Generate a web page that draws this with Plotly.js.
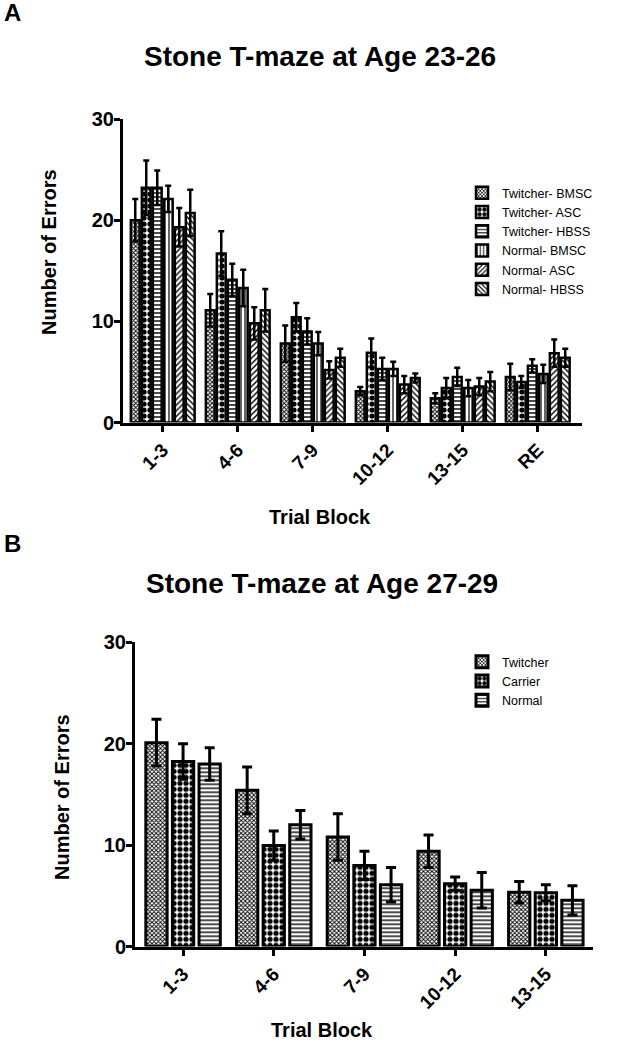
<!DOCTYPE html>
<html>
<head>
<meta charset="utf-8">
<script src="https://cdn.plot.ly/plotly-3.0.1.min.js"></script>
<style>html,body{margin:0;padding:0;background:#fff;}#chart{width:618px;height:1050px;}</style>
</head>
<body>
<div id="chart"></div>
<script>
// ---- Panel A data (Age 23-26) ----
const blocksA = ["1-3", "4-6", "7-9", "10-12", "13-15", "RE"];
const seriesA = ["Twitcher- BMSC", "Twitcher- ASC", "Twitcher- HBSS", "Normal- BMSC", "Normal- ASC", "Normal- HBSS"];
const twBMSC = [20.0, 11.1, 7.8, 3.1, 2.4, 4.5];
const twBMSCerr = [2.1, 1.6, 1.8, 0.4, 0.5, 1.3];
const twASC = [23.2, 16.7, 10.4, 6.9, 3.4, 4.0];
const twASCerr = [2.7, 2.2, 1.4, 1.4, 1.0, 0.6];
const twHBSS = [23.2, 14.1, 9.0, 5.3, 4.5, 5.6];
const twHBSSerr = [1.7, 1.6, 1.3, 1.1, 0.9, 0.65];
const nBMSC = [22.1, 13.3, 7.8, 5.3, 3.4, 4.8];
const nBMSCerr = [1.3, 1.8, 1.15, 0.7, 0.8, 0.9];
const nASC = [19.3, 9.8, 5.2, 3.75, 3.55, 6.85];
const nASCerr = [1.9, 1.6, 0.85, 0.85, 0.85, 1.35];
const nHBSS = [20.7, 11.1, 6.4, 4.4, 4.05, 6.4];
const nHBSSerr = [2.3, 2.1, 0.9, 0.45, 0.95, 0.9];

// ---- Panel B data (Age 27-29) ----
const blocksB = ["1-3", "4-6", "7-9", "10-12", "13-15"];
const seriesB = ["Twitcher", "Carrier", "Normal"];
const twitcher = [20.1, 15.4, 10.8, 9.4, 5.35];
const twitcherErr = [2.3, 2.3, 2.3, 1.6, 1.05];
const carrier = [18.25, 9.95, 8.0, 6.2, 5.3];
const carrierErr = [1.75, 1.45, 1.4, 0.65, 0.8];
const normal = [18.0, 12.0, 6.1, 5.55, 4.55];
const normalErr = [1.6, 1.4, 1.7, 1.75, 1.45];

const yTicks = [0, 10, 20, 30];

// pattern styles
const patT_BMSC = {shape: "x", size: 3, solidity: 0.5, fgcolor: "#000", bgcolor: "#fff"};
const patT_ASC = {shape: ".", size: 6, solidity: 0.6, fgcolor: "#000", bgcolor: "#fff"};
const patHoriz = {shape: "-", size: 4, solidity: 0.35, fgcolor: "#000", bgcolor: "#fff"};
const patVert = {shape: "|", size: 4, solidity: 0.3, fgcolor: "#000", bgcolor: "#fff"};
const patSlash = {shape: "/", size: 4, solidity: 0.35, fgcolor: "#000", bgcolor: "#fff"};
const patBack = {shape: "\\", size: 4, solidity: 0.35, fgcolor: "#000", bgcolor: "#fff"};

function barTrace(name, x, y, err, pat, xa, ya, legend, lw, ew, cap) {
  return {
    type: "bar", name: name, x: x, y: y,
    xaxis: xa, yaxis: ya, legend: legend,
    marker: {color: "#fff", line: {color: "#000", width: lw}, pattern: pat},
    error_y: {type: "data", array: err, visible: true, color: "#000", thickness: ew, width: cap}
  };
}

const valsA = [twBMSC, twASC, twHBSS, nBMSC, nASC, nHBSS];
const errsA = [twBMSCerr, twASCerr, twHBSSerr, nBMSCerr, nASCerr, nHBSSerr];
const patsA = [patT_BMSC, patT_ASC, patHoriz, patVert, patSlash, patBack];
const valsB = [twitcher, carrier, normal];
const errsB = [twitcherErr, carrierErr, normalErr];
const patsB = [patT_BMSC, patT_ASC, patHoriz];

const traces = [];
seriesA.forEach((s, i) => traces.push(barTrace(s, blocksA, valsA[i], errsA[i], patsA[i], "x", "y", "legend", 2.5, 2.5, 3)));
seriesB.forEach((s, i) => traces.push(barTrace(s, blocksB, valsB[i], errsB[i], patsB[i], "x2", "y2", "legend2", 3, 3, 5)));

const W = 618, H = 1050;
const px = v => v / W;
const py = v => 1 - v / H;
const boldFont = (size) => ({family: "Liberation Sans, Arial, sans-serif", size: size, color: "#000", weight: "bold"});

const yAxisBase = {
  range: [0, 30], tickvals: yTicks, ticktext: yTicks.map(String),
  showline: true, linecolor: "#000", linewidth: 3,
  ticks: "outside", ticklen: 6, tickwidth: 3, tickcolor: "#000",
  ticklabelstandoff: -4,
  showgrid: false, zeroline: false, tickfont: boldFont(20), fixedrange: true
};
const xAxisBase = {
  type: "category", showline: true, linecolor: "#000", linewidth: 3,
  ticks: "outside", ticklen: 6, tickwidth: 3, tickcolor: "#000",
  showgrid: false, zeroline: false, tickangle: -45, tickfont: boldFont(19), fixedrange: true
};

const legendFont = {family: "Liberation Sans, Arial, sans-serif", size: 12.5, color: "#000"};

const layout = {
  width: W, height: H,
  margin: {l: 0, r: 0, t: 0, b: 0},
  paper_bgcolor: "#fff", plot_bgcolor: "#fff",
  showlegend: true,
  barmode: "group",
  bargap: 0.12, bargroupgap: 0.2,
  xaxis: Object.assign({}, xAxisBase, {domain: [px(123), px(582)], range: [-0.53, 5.59], anchor: "y"}),
  yaxis: Object.assign({}, yAxisBase, {domain: [py(422.5), py(119)], anchor: "x"}),
  xaxis2: Object.assign({}, xAxisBase, {domain: [px(135), px(593)], range: [-0.53, 4.52], anchor: "y2"}),
  yaxis2: Object.assign({}, yAxisBase, {domain: [py(946.5), py(642.3)], anchor: "x2"}),
  legend: {x: px(462), y: py(178), xanchor: "left", yanchor: "top", bgcolor: "rgba(0,0,0,0)",
           font: legendFont, traceorder: "normal"},
  legend2: {x: px(462), y: py(647), xanchor: "left", yanchor: "top", bgcolor: "rgba(0,0,0,0)",
           font: legendFont, traceorder: "normal"},
  annotations: [
    {text: "A", x: px(2), y: py(12), xref: "paper", yref: "paper", xanchor: "left", yanchor: "middle", showarrow: false, font: boldFont(24)},
    {text: "Stone T-maze at Age 23-26", x: px(320), y: py(57), xref: "paper", yref: "paper", xanchor: "center", yanchor: "middle", showarrow: false, font: boldFont(28)},
    {text: "Number of Errors", x: px(49), y: py(252), xref: "paper", yref: "paper", xanchor: "center", yanchor: "middle", textangle: -90, showarrow: false, font: boldFont(20)},
    {text: "Trial Block", x: px(320), y: py(517), xref: "paper", yref: "paper", xanchor: "center", yanchor: "middle", showarrow: false, font: boldFont(20)},
    {text: "B", x: px(2), y: py(543), xref: "paper", yref: "paper", xanchor: "left", yanchor: "middle", showarrow: false, font: boldFont(24)},
    {text: "Stone T-maze at Age 27-29", x: px(322), y: py(583), xref: "paper", yref: "paper", xanchor: "center", yanchor: "middle", showarrow: false, font: boldFont(28)},
    {text: "Number of Errors", x: px(62), y: py(797), xref: "paper", yref: "paper", xanchor: "center", yanchor: "middle", textangle: -90, showarrow: false, font: boldFont(20)},
    {text: "Trial Block", x: px(322), y: py(1030), xref: "paper", yref: "paper", xanchor: "center", yanchor: "middle", showarrow: false, font: boldFont(20)}
  ]
};

Plotly.newPlot("chart", traces, layout, {staticPlot: true, displayModeBar: false});
</script>
</body>
</html>
